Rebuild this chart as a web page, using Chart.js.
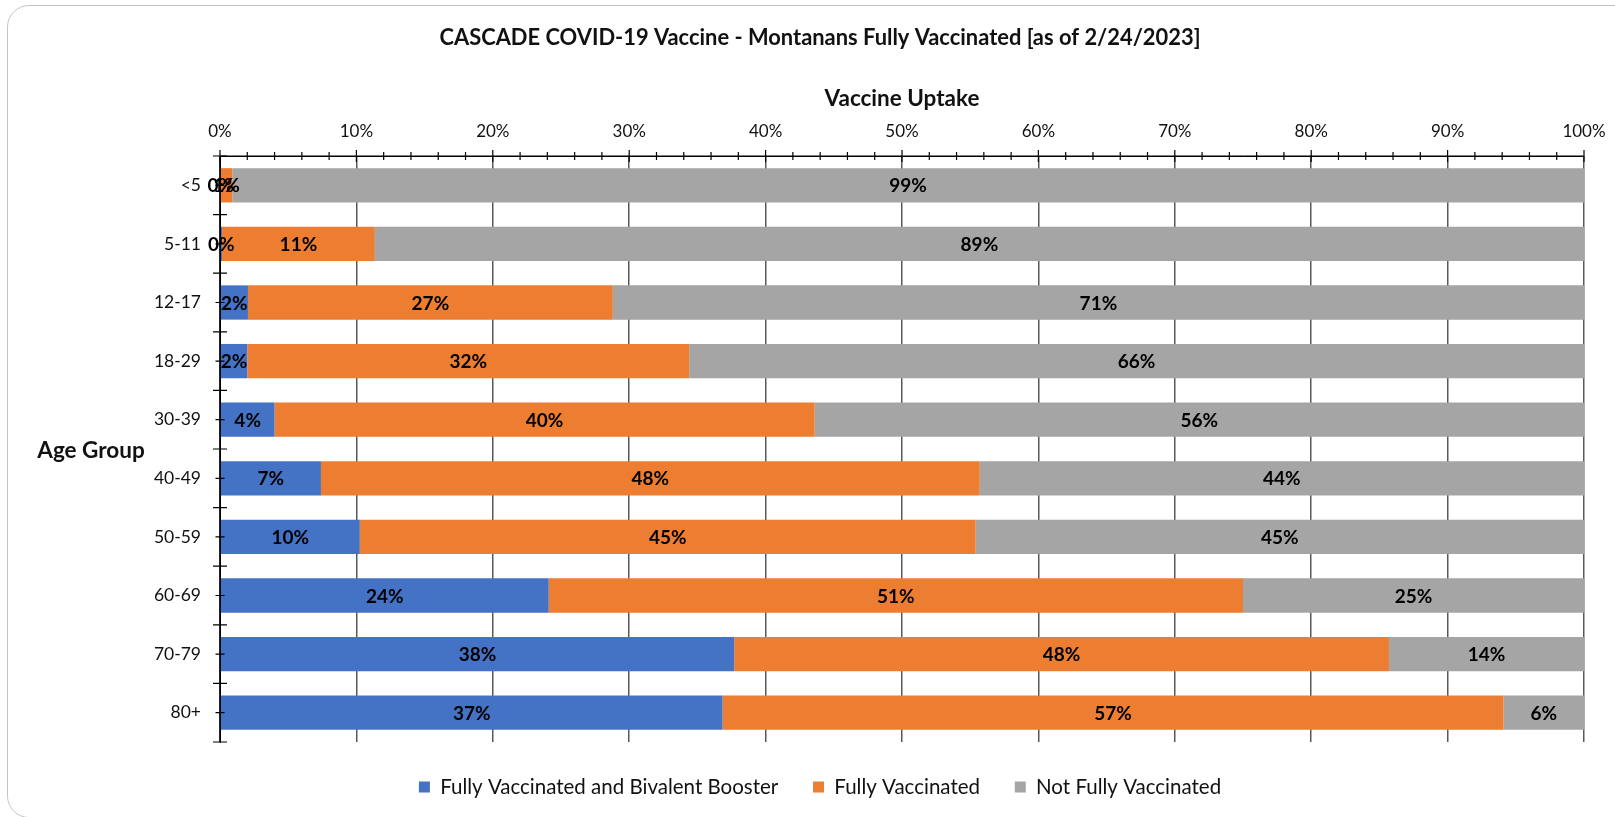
<!DOCTYPE html>
<html>
<head>
<meta charset="utf-8">
<script src="https://cdn.jsdelivr.net/npm/chart.js@4.4.1/dist/chart.umd.min.js"></script>
<style>
  html, body { margin: 0; padding: 0; background: #ffffff; }
  #wrap { position: relative; width: 1615px; height: 817px; overflow: hidden; }
  #frame { position: absolute; left: 7px; top: 5px; width: 1660px; height: 813px;
           border: 1.5px solid #c4c4c4; border-radius: 22px; pointer-events: none; box-sizing: border-box; }
  canvas { display: block; }
</style>
</head>
<body>
<div id="wrap">
  <canvas id="c" width="1615" height="817"></canvas>
  <div id="frame"></div>
</div>
<script>
// ---- data ----
const categories = ['<5', '5-11', '12-17', '18-29', '30-39', '40-49', '50-59', '60-69', '70-79', '80+'];
const boosterValues = [0.05, 0.15, 2.05, 2.0, 4.0, 7.4, 10.25, 24.1, 37.7, 36.85];
const fullyValues = [0.85, 11.2, 26.75, 32.4, 39.6, 48.3, 45.15, 50.9, 48.0, 57.25];
const notFullyValues = [99.1, 88.65, 71.2, 65.6, 56.4, 44.3, 44.6, 25.0, 14.3, 5.9];
const seriesNames = ['Fully Vaccinated and Bivalent Booster', 'Fully Vaccinated', 'Not Fully Vaccinated'];
const xTickValues = [0, 10, 20, 30, 40, 50, 60, 70, 80, 90, 100];
const titleText = 'CASCADE COVID-19 Vaccine - Montanans Fully Vaccinated [as of 2/24/2023]';
const xTitleText = 'Vaccine Uptake';
const yTitleText = 'Age Group';

const FONT = 'Lato, "Open Sans", "Noto Sans", sans-serif';
const TEXT = '#111111';

const TITLE_SIZE = 21.9, TITLE_PAD_TOP = 24.9;
const TITLE_BOTTOM = TITLE_PAD_TOP + TITLE_SIZE * 1.2;
const AREA_TOP = 156, AREA_LEFT = 220;
const PAD_LEFT = 56;
const LEGEND_SIZE = 20.5, LEGEND_PAD = 34.75;

const overlay = {
  id: 'overlay',
  afterDatasetsDraw(chart) {
    const ctx = chart.ctx;
    const xs = chart.scales.x, ys = chart.scales.y;
    const a = chart.chartArea;
    ctx.save();
    ctx.strokeStyle = '#000000';
    ctx.lineWidth = 1.2;
    // axis lines
    ctx.beginPath();
    ctx.moveTo(a.left, a.top); ctx.lineTo(a.right, a.top);
    ctx.moveTo(a.left, a.top); ctx.lineTo(a.left, a.bottom);
    ctx.stroke();
    // x ticks: minor every 2, major every 10
    ctx.beginPath();
    for (let v = 0; v <= 100; v += 2) {
      const px = xs.getPixelForValue(v);
      const major = v % 10 === 0;
      ctx.moveTo(px, a.top - (major ? 6 : 4));
      ctx.lineTo(px, a.top + (major ? 6 : 4));
    }
    // y ticks: boundaries (major) and centers (minor)
    const n = categories.length;
    for (let i = 0; i <= n; i++) {
      const py = ys.getPixelForValue(i - 0.5);
      ctx.moveTo(a.left - 7, py); ctx.lineTo(a.left + 7, py);
    }
    for (let i = 0; i < n; i++) {
      const py = ys.getPixelForValue(i);
      ctx.moveTo(a.left - 4.5, py); ctx.lineTo(a.left + 4.5, py);
    }
    ctx.stroke();
    // data labels
    ctx.fillStyle = '#000000';
    ctx.font = 'bold 19px ' + FONT;
    ctx.textAlign = 'center';
    ctx.textBaseline = 'middle';
    chart.data.datasets.forEach((ds, di) => {
      const meta = chart.getDatasetMeta(di);
      meta.data.forEach((el, i) => {
        const cx = (el.x + el.base) / 2;
        ctx.fillText(Math.round(ds.data[i]) + '%', cx, el.y + 1);
      });
    });
    // horizontal y-axis title
    ctx.font = 'bold 22.5px ' + FONT;
    ctx.fillStyle = TEXT;
    ctx.fillText(yTitleText, 91, (a.top + a.bottom) / 2 + 2);
    ctx.restore();
  }
};

new Chart(document.getElementById('c'), {
  type: 'bar',
  data: {
    labels: categories,
    datasets: [
      { label: seriesNames[0], data: boosterValues, backgroundColor: '#4472C4' },
      { label: seriesNames[1], data: fullyValues, backgroundColor: '#ED7D31' },
      { label: seriesNames[2], data: notFullyValues, backgroundColor: '#A5A5A5' }
    ]
  },
  options: {
    indexAxis: 'y',
    responsive: false,
    animation: false,
    devicePixelRatio: 1,
    layout: { padding: { left: PAD_LEFT, right: 31, top: 0, bottom: 817 - 742 - (LEGEND_SIZE + LEGEND_PAD + 10) } },
    datasets: { bar: { barPercentage: 0.585, categoryPercentage: 1.0, borderWidth: 0 } },
    plugins: {
      title: {
        display: true, text: titleText, color: TEXT,
        font: { family: FONT, size: TITLE_SIZE, weight: 'bold', lineHeight: 1.2 },
        padding: { top: TITLE_PAD_TOP, bottom: 0 }
      },
      legend: {
        position: 'bottom',
        labels: {
          color: TEXT, boxWidth: 11, boxHeight: 11, padding: LEGEND_PAD,
          font: { family: FONT, size: LEGEND_SIZE }
        }
      },
      tooltip: { enabled: false }
    },
    scales: {
      x: {
        position: 'top', stacked: true, min: 0, max: 100,
        afterBuildTicks: s => { s.ticks = xTickValues.map(v => ({ value: v })); },
        afterFit: s => { s.height = AREA_TOP - TITLE_BOTTOM; },
        ticks: {
          color: TEXT, padding: 0, maxRotation: 0, autoSkip: false,
          font: { family: FONT, size: 17 },
          callback: v => v + '%'
        },
        grid: { display: true, drawTicks: true, tickLength: 14.5, tickColor: 'rgba(0,0,0,0)', color: '#595959', lineWidth: 1.5 },
        border: { display: true, color: '#000000', width: 1 },
        title: {
          display: true, text: xTitleText, color: TEXT,
          font: { family: FONT, size: 22.5, weight: 'bold', lineHeight: 1.2 },
          padding: { top: 99 - TITLE_BOTTOM - 22.5 * 0.6, bottom: 0 }
        }
      },
      y: {
        stacked: true, offset: true,
        afterFit: s => { s.width = AREA_LEFT - PAD_LEFT; },
        ticks: { color: TEXT, padding: 19, font: { family: FONT, size: 17.5 } },
        grid: { display: false, drawTicks: false },
        border: { display: true, color: '#000000', width: 1 }
      }
    }
  },
  plugins: [overlay]
});
</script>
</body>
</html>
